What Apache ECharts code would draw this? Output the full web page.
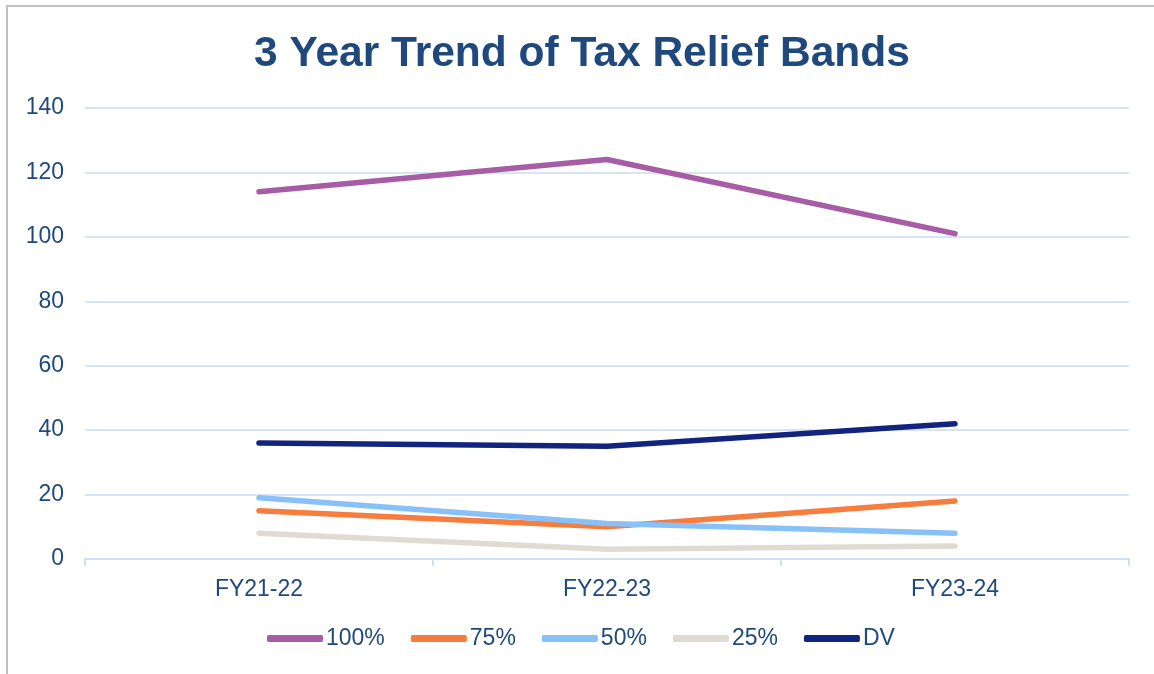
<!DOCTYPE html>
<html>
<head>
<meta charset="utf-8">
<script src="https://cdn.jsdelivr.net/npm/echarts@6/dist/echarts.min.js"></script>
<style>
  html, body { margin: 0; padding: 0; background: #fff; }
  #chart { width: 1154px; height: 674px; }
</style>
</head>
<body>
<div id="chart"></div>
<script>
// Fiscal years on the category axis
const years = ['FY21-22', 'FY22-23', 'FY23-24'];

// Counts per relief band
const band100 = [114, 124, 101];
const band75 = [15, 10, 18];
const band50 = [19, 11, 8];
const band25 = [8, 3, 4];
const bandDV = [36, 35, 42];

const seriesNames = ['100%', '75%', '50%', '25%', 'DV'];
const seriesValues = [band100, band75, band50, band25, bandDV];
const seriesColors = ['#A65DA6', '#F67D3D', '#87C1F7', '#DFDBD3', '#13247F'];

const textBlue = '#1F497D';
const font = '"Liberation Sans", Arial, sans-serif';

const chart = echarts.init(document.getElementById('chart'));

chart.setOption({
  backgroundColor: '#ffffff',
  animation: false,
  graphic: [{
    type: 'rect',
    shape: { x: 7, y: 6, width: 1160, height: 680 },
    style: { fill: 'none', stroke: '#BFBFBF', lineWidth: 2 },
    silent: true
  }],
  title: {
    text: '3 Year Trend of Tax Relief Bands',
    left: 249,
    top: 28,
    textStyle: { fontFamily: font, fontSize: 42.5, fontWeight: 'bold', color: textBlue }
  },
  legend: {
    bottom: 19,
    left: 262,
    icon: 'roundRect',
    itemWidth: 56,
    itemHeight: 7,
    itemGap: 26,
    textStyle: { fontFamily: font, fontSize: 23, color: textBlue, padding: [0, 0, 0, -2] },
    data: seriesNames
  },
  grid: { left: 85, right: 25, top: 108, bottom: 115, containLabel: false },
  xAxis: {
    type: 'category',
    data: years,
    boundaryGap: true,
    axisLine: { lineStyle: { color: '#D3E0F1', width: 2 } },
    axisTick: { show: true, length: 7, lineStyle: { color: '#D3E0F1', width: 2 } },
    axisLabel: { fontFamily: font, fontSize: 23, color: textBlue, margin: 19 }
  },
  yAxis: {
    type: 'value',
    min: 0,
    max: 140,
    interval: 20,
    axisLine: { show: false },
    axisTick: { show: false },
    splitLine: { lineStyle: { color: '#D9E4F3', width: 2 } },
    axisLabel: { fontFamily: font, fontSize: 23, color: textBlue, margin: 21 }
  },
  series: seriesNames.map((name, i) => ({
    name: name,
    type: 'line',
    data: seriesValues[i],
    symbol: 'none',
    color: seriesColors[i],
    lineStyle: { width: 5.5, color: seriesColors[i], cap: 'round', join: 'round' },
    z: 2 + i
  }))
});
</script>
</body>
</html>
